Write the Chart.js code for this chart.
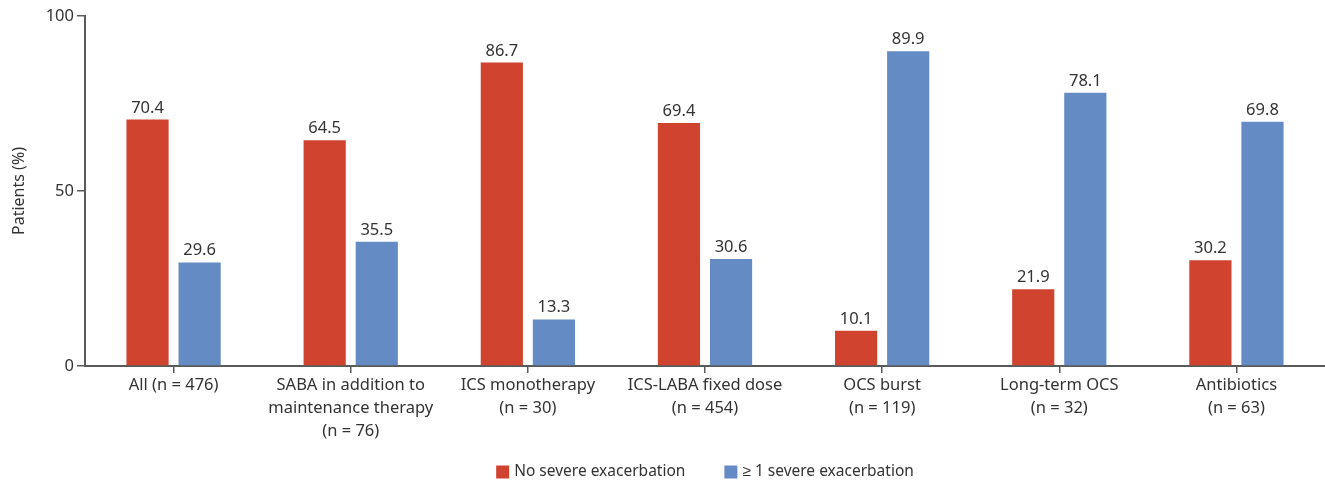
<!DOCTYPE html>
<html>
<head>
<meta charset="utf-8">
<script src="https://cdn.jsdelivr.net/npm/chart.js@4.4.1/dist/chart.umd.min.js"></script>
<style>
html,body{margin:0;padding:0;background:#fff;}
#wrap{width:1325px;height:484px;position:relative;}
</style>
</head>
<body>
<div id="wrap"><canvas id="c" width="1325" height="484"></canvas></div>
<script>
const categories = [
  ["All (n = 476)"],
  ["SABA in addition to", "maintenance therapy", "(n = 76)"],
  ["ICS monotherapy", "(n = 30)"],
  ["ICS-LABA fixed dose", "(n = 454)"],
  ["OCS burst", "(n = 119)"],
  ["Long-term OCS", "(n = 32)"],
  ["Antibiotics", "(n = 63)"]
];
const seriesNames = ["No severe exacerbation", "\u2265 1 severe exacerbation"];
const noSevere = [70.4, 64.5, 86.7, 69.4, 10.1, 21.9, 30.2];
const severe = [29.6, 35.5, 13.3, 30.6, 89.9, 78.1, 69.8];
const yTicks = [0, 50, 100];
const seriesColors = ['#D0432F', '#648BC3'];

const FONT = "'Noto Sans', sans-serif";
const TEXT = '#333333';
const AXIS = '#5a5a5a';

const valueLabels = {
  id: 'valueLabels',
  afterDatasetsDraw(chart) {
    const ctx = chart.ctx;
    ctx.save();
    ctx.font = '16.5px ' + FONT;
    ctx.fillStyle = TEXT;
    ctx.textAlign = 'center';
    ctx.textBaseline = 'alphabetic';
    chart.data.datasets.forEach((ds, i) => {
      const meta = chart.getDatasetMeta(i);
      meta.data.forEach((el, j) => {
        ctx.fillText(ds.data[j].toFixed(1), el.x, el.y - 7);
      });
    });
    ctx.restore();
  }
};

const bottomLegend = {
  id: 'bottomLegend',
  afterDraw(chart) {
    const ctx = chart.ctx;
    ctx.save();
    ctx.font = '15.5px ' + FONT;
    ctx.textBaseline = 'middle';
    ctx.textAlign = 'left';
    const box = 13, gapText = 5, gapItem = 39;
    const items = chart.data.datasets.map(ds => ({ label: ds.label, color: ds.backgroundColor, w: ctx.measureText(ds.label).width }));
    let total = 0;
    items.forEach((it, i) => { total += box + gapText + it.w + (i < items.length - 1 ? gapItem : 0); });
    const ca = chart.chartArea;
    let x = (ca.left + ca.right) / 2 - total / 2;
    const y = 472;
    items.forEach(it => {
      ctx.fillStyle = it.color;
      ctx.fillRect(x, y - box / 2, box, box);
      ctx.fillStyle = TEXT;
      ctx.fillText(it.label, x + box + gapText, y);
      x += box + gapText + it.w + gapItem;
    });
    ctx.restore();
  }
};

new Chart(document.getElementById('c'), {
  type: 'bar',
  data: {
    labels: categories,
    datasets: [
      { label: seriesNames[0], data: noSevere, backgroundColor: seriesColors[0], categoryPercentage: 0.588, barPercentage: 0.81 },
      { label: seriesNames[1], data: severe, backgroundColor: seriesColors[1], categoryPercentage: 0.588, barPercentage: 0.81 }
    ]
  },
  options: {
    responsive: false,
    animation: false,
    layout: { padding: { top: 16, right: 0, left: 0, bottom: 38 } },
    plugins: {
      tooltip: { enabled: false },
      legend: { display: false }
    },
    scales: {
      x: {
        grid: { drawOnChartArea: false, offset: false, tickLength: 7, color: AXIS, lineWidth: 1.5 },
        border: { color: AXIS, width: 2 },
        ticks: { font: { family: FONT, size: 16.5, lineHeight: 1.4 }, color: TEXT, maxRotation: 0, autoSkip: false, padding: 1 },
        afterFit(s) { s.height = 80; }
      },
      y: {
        min: 0, max: 100,
        afterBuildTicks(s) { s.ticks = yTicks.map(v => ({ value: v })); },
        grid: { drawOnChartArea: false, tickLength: 8, color: AXIS, lineWidth: 1.5 },
        border: { color: AXIS, width: 2 },
        ticks: { font: { family: FONT, size: 16.5 }, color: TEXT, padding: 3 },
        title: { display: true, text: 'Patients (%)', font: { family: FONT, size: 16 }, color: TEXT, padding: { top: 10, bottom: 0 } },
        afterFit(s) { s.width = 85; }
      }
    }
  },
  plugins: [valueLabels, bottomLegend]
});
</script>
</body>
</html>
